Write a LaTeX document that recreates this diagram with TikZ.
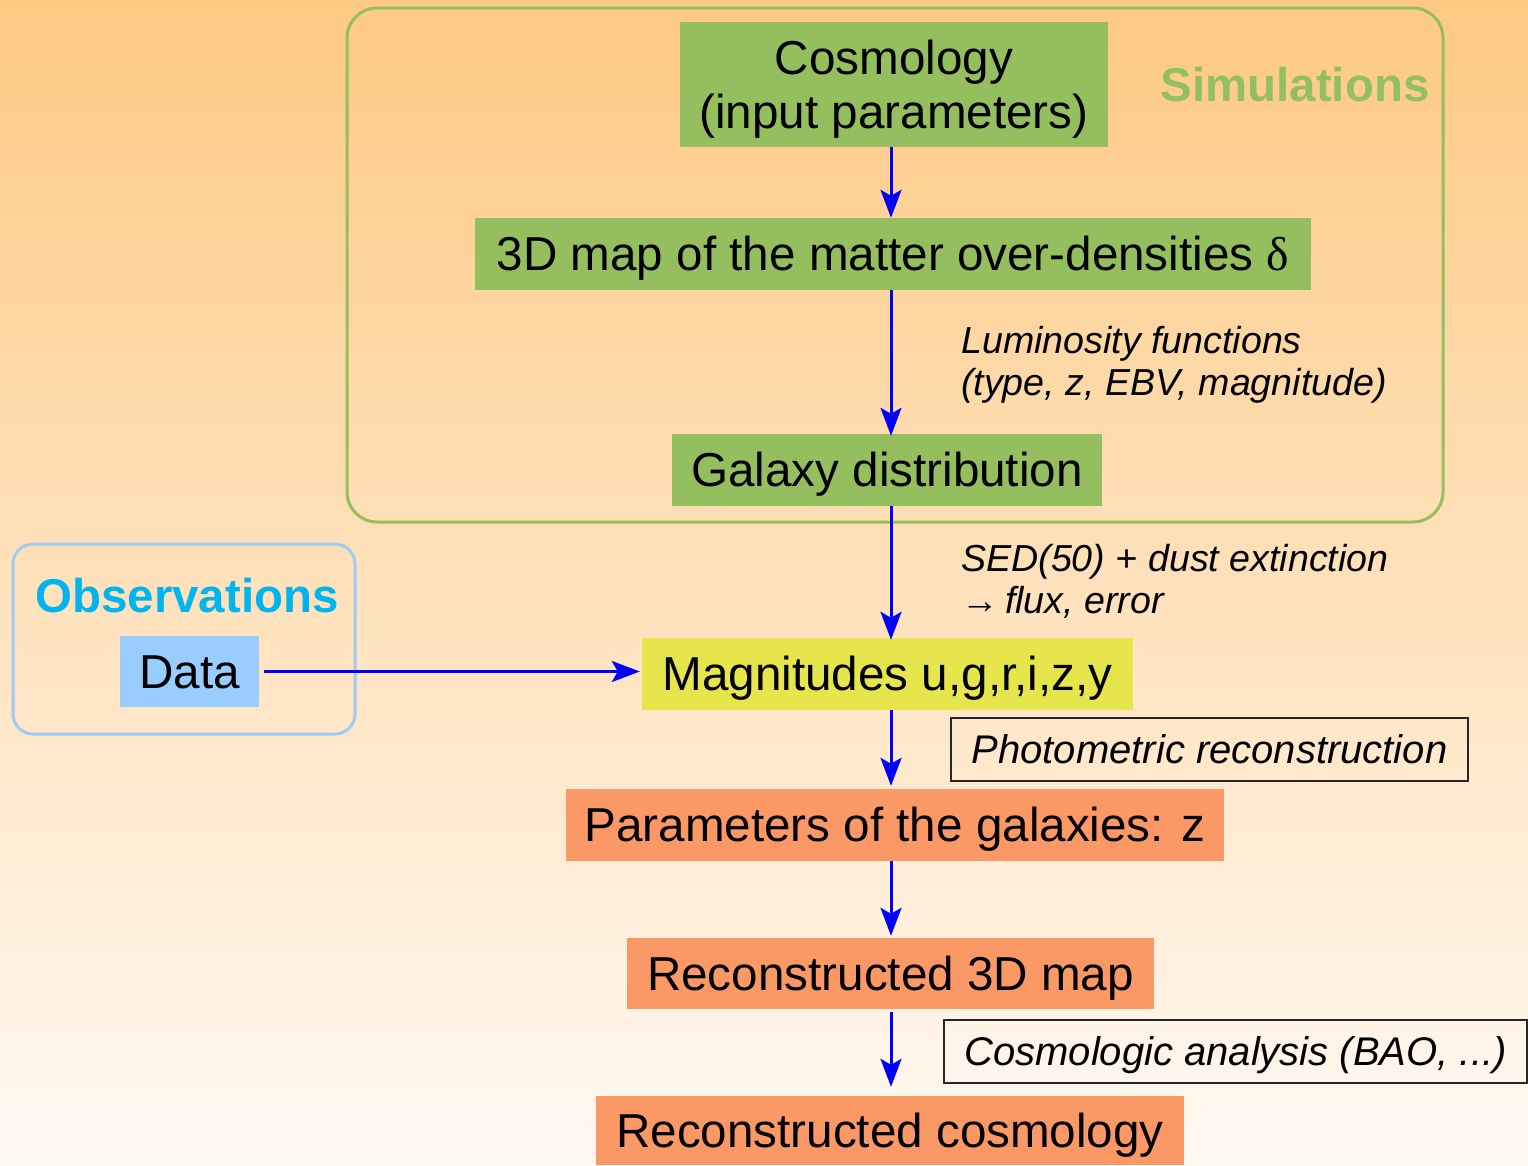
\documentclass[tikz,border=0pt]{standalone}
\usepackage{fontspec}
\setmainfont{Liberation Sans}
\newfontfamily\serifsym{Liberation Serif}
\usetikzlibrary{arrows.meta}
\definecolor{bgtop}{RGB}{254,201,131}
\definecolor{bgbot}{RGB}{255,249,243}
\definecolor{simgreen}{RGB}{149,190,94}
\definecolor{simtext}{RGB}{146,192,96}
\definecolor{magyellow}{RGB}{230,230,76}
\definecolor{recorange}{RGB}{251,153,102}
\definecolor{obstext}{RGB}{0,180,240}
\definecolor{datablue}{RGB}{153,204,255}
\definecolor{obsframe}{RGB}{156,203,246}
\definecolor{arrblue}{RGB}{0,0,255}
\tikzset{
  stagebox/.style={rectangle, inner sep=0pt, text=black, font=\fontsize{47.6}{54}\selectfont, align=center, text height=43pt, text depth=10pt},
  labelbox/.style={rectangle, inner sep=0pt, draw=black!85, line width=1.2pt, font=\fontsize{40}{46}\selectfont\itshape, text height=36.2pt, text depth=8.5pt},
  sidetext/.style={inner sep=0pt, anchor=west, align=left, font=\fontsize{37.6}{42}\selectfont\itshape, text height=76pt, text depth=8pt},
  groupframe/.style={rectangle, inner sep=0pt, line width=3pt},
  arr/.style={draw=arrblue, line width=3pt, -{Stealth[length=28pt, width=21pt, inset=6pt]}},
}
\begin{document}
\begin{tikzpicture}[x=1pt, y=-1pt]
\useasboundingbox (0,0) rectangle (1528,1165);
\shade[top color=bgtop, bottom color=bgbot] (0,0) rectangle (1528,1165);

% group frames
\node[groupframe, draw=simgreen, rounded corners=30pt, minimum width=1096pt, minimum height=514pt] (simframe) at (895,265) {};
\node[groupframe, draw=obsframe, rounded corners=20pt, minimum width=342pt, minimum height=190pt] (obsframe) at (184,639) {};

\node[font=\fontsize{47.4}{54}\selectfont\bfseries, text=simtext, inner sep=0pt] (simlabel) at (1295,85) {Simulations};
\node[font=\fontsize{47.4}{54}\selectfont\bfseries, text=obstext, inner sep=0pt] (obslabel) at (187,596) {Observations};

% stage boxes
\node[stagebox, fill=simgreen, minimum width=428pt, minimum height=125pt, text height=97pt] (cosmo) at (894,84.5) {Cosmology\\(input parameters)};
\node[stagebox, fill=simgreen, minimum width=836pt, minimum height=72pt] (map) at (893,254) {3D map of the matter over-densities {\serifsym δ}};
\node[stagebox, fill=simgreen, minimum width=430pt, minimum height=72pt] (galaxy) at (887,470) {Galaxy distribution};
\node[stagebox, fill=magyellow, minimum width=491pt, minimum height=72pt] (mag) at (887.5,674) {Magnitudes u,g,r,i,z,y};
\node[stagebox, fill=recorange, minimum width=658pt, minimum height=72pt] (params) at (895,825) {Parameters of the galaxies: z};
\node[stagebox, fill=recorange, minimum width=527pt, minimum height=71pt] (rec3d) at (890.5,973.5) {Reconstructed 3D map};
\node[stagebox, fill=recorange, minimum width=588pt, minimum height=69pt] (reccos) at (890,1130.5) {Reconstructed cosmology};
\node[stagebox, fill=datablue, minimum width=139pt, minimum height=71pt] (data) at (189.5,671.5) {Data};

% side labels
\node[sidetext] (lumtext) at (961,361) {Luminosity functions\\(type, z, EBV, magnitude)};
\node[sidetext] (sedtext) at (961,579) {SED(50) + dust extinction\\{\upshape\serifsym →}\,flux, error};
\node[labelbox, minimum width=517pt, minimum height=63pt] (photo) at (1209.5,749.5) {Photometric reconstruction};
\node[labelbox, minimum width=583pt, minimum height=63pt] (analysis) at (1235.5,1051.5) {Cosmologic analysis (BAO, ...)};

% connectors
\coordinate (spine) at (891,0);
\draw[arr] (spine |- cosmo.south) -- (spine |- map.north);
\draw[arr] (spine |- map.south) -- ([yshift=-2pt]spine |- galaxy.north);
\draw[arr] (spine |- galaxy.south) -- ([yshift=-2pt]spine |- mag.north);
\draw[arr] (spine |- mag.south) -- ([yshift=3pt]spine |- params.north);
\draw[arr] (spine |- params.south) -- ([yshift=2pt]spine |- rec3d.north);
\draw[arr, shorten <=3pt] (spine |- rec3d.south) -- ([yshift=9pt]spine |- reccos.north);
\draw[arr, shorten <=5pt, shorten >=2pt] (data.east) -- (data.east -| mag.west);
\end{tikzpicture}
\end{document}
